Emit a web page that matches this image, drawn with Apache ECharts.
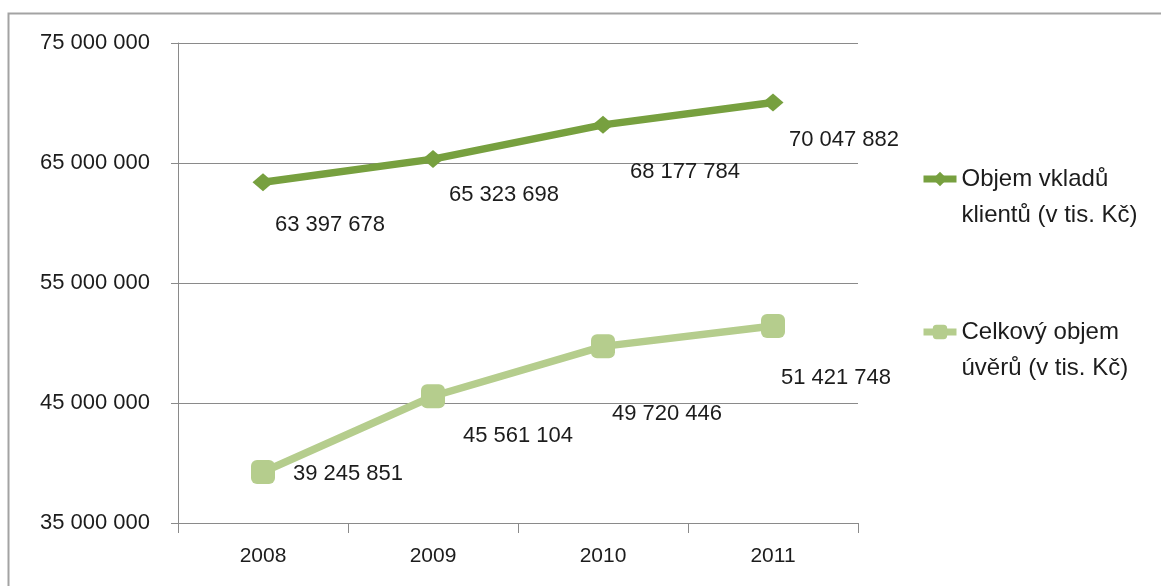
<!DOCTYPE html>
<html>
<head>
<meta charset="utf-8">
<script src="https://cdn.jsdelivr.net/npm/echarts@6/dist/echarts.min.js"></script>
<style>
  html, body { margin: 0; padding: 0; background: #ffffff; }
  #chart { width: 1161px; height: 586px; }
</style>
</head>
<body>
<div id="chart"></div>
<script>
// Years on the category axis
const years = ['2008', '2009', '2010', '2011'];

// Deposits and loans, in thousands of CZK
const depositNames = 'Objem vkladů klientů (v tis. Kč)';
const loanNames = 'Celkový objem úvěrů (v tis. Kč)';
const deposits = [63397678, 65323698, 68177784, 70047882];
const loans = [39245851, 45561104, 49720446, 51421748];

// Value axis range and step
const yMin = 35000000;
const yMax = 75000000;
const yStep = 10000000;

// Where each value label sits relative to its point
const depositLabelShift = [[67, 43], [71, 36], [82, 47], [71, 38]];
const loanLabelShift = [[85, 2], [85, 40], [64, 68], [63, 52]];

// Legend text broken over two lines; the blank first line keeps the
// icon level with the first line of words
const legendText = {};
legendText[depositNames] = ' \nObjem vkladů\nklientů (v tis. Kč)';
legendText[loanNames] = ' \nCelkový objem\núvěrů (v tis. Kč)';

const FONT = 'Liberation Sans, Arial, sans-serif';
const INK = '#1c1c1c';
const GRID = '#8a8a8a';

function spaced(v) {
  return String(Math.round(v)).replace(/\B(?=(\d{3})+(?!\d))/g, ' ');
}

function labelled(values, shifts) {
  return values.map((v, i) => ({
    value: v,
    label: { offset: shifts[i] }
  }));
}

const chart = echarts.init(document.getElementById('chart'), null, { renderer: 'canvas' });

chart.setOption({
  animation: false,
  backgroundColor: '#ffffff',
  textStyle: { fontFamily: FONT },
  graphic: [{
    type: 'rect',
    left: 6,
    top: 11,
    shape: { width: 1300, height: 700 },
    style: { fill: 'none', stroke: '#a3a3a3', lineWidth: 2 },
    silent: true
  }],
  grid: { left: 178, right: 303, top: 43, bottom: 63, containLabel: false },
  legend: {
    orient: 'vertical',
    left: 915,
    top: 120,
    padding: 5,
    itemGap: 45,
    itemWidth: 33,
    itemHeight: 18,
    data: [depositNames, loanNames],
    formatter: name => legendText[name],
    lineStyle: { width: 7 },
    textStyle: {
      fontFamily: FONT,
      fontSize: 24,
      lineHeight: 36,
      color: INK
    }
  },
  xAxis: {
    type: 'category',
    data: years,
    boundaryGap: true,
    axisLine: { show: true, lineStyle: { color: GRID, width: 1 } },
    axisTick: { show: true, length: 10, inside: false, lineStyle: { color: GRID } },
    axisLabel: { color: INK, fontSize: 21, fontFamily: FONT, margin: 23 },
    splitLine: { show: false }
  },
  yAxis: {
    type: 'value',
    min: yMin,
    max: yMax,
    interval: yStep,
    axisLine: { show: true, lineStyle: { color: GRID, width: 1 } },
    axisTick: { show: true, length: 7, lineStyle: { color: GRID } },
    axisLabel: {
      color: INK,
      fontSize: 22,
      fontFamily: FONT,
      margin: 28,
      formatter: v => spaced(v)
    },
    splitLine: { show: true, lineStyle: { color: GRID, width: 1 } }
  },
  series: [
    {
      name: depositNames,
      type: 'line',
      data: labelled(deposits, depositLabelShift),
      symbol: 'diamond',
      symbolSize: [21, 18],
      lineStyle: { color: '#77a03f', width: 7.5 },
      itemStyle: { color: '#77a03f' },
      label: {
        show: true,
        position: 'inside',
        color: INK,
        fontSize: 22,
        fontFamily: FONT,
        formatter: p => spaced(p.value)
      },
      z: 3
    },
    {
      name: loanNames,
      type: 'line',
      data: labelled(loans, loanLabelShift),
      symbol: 'roundRect',
      symbolSize: 24,
      lineStyle: { color: '#b5cd8d', width: 7.5 },
      itemStyle: { color: '#b5cd8d' },
      label: {
        show: true,
        position: 'inside',
        color: INK,
        fontSize: 22,
        fontFamily: FONT,
        formatter: p => spaced(p.value)
      },
      z: 3
    }
  ]
});
</script>
</body>
</html>
